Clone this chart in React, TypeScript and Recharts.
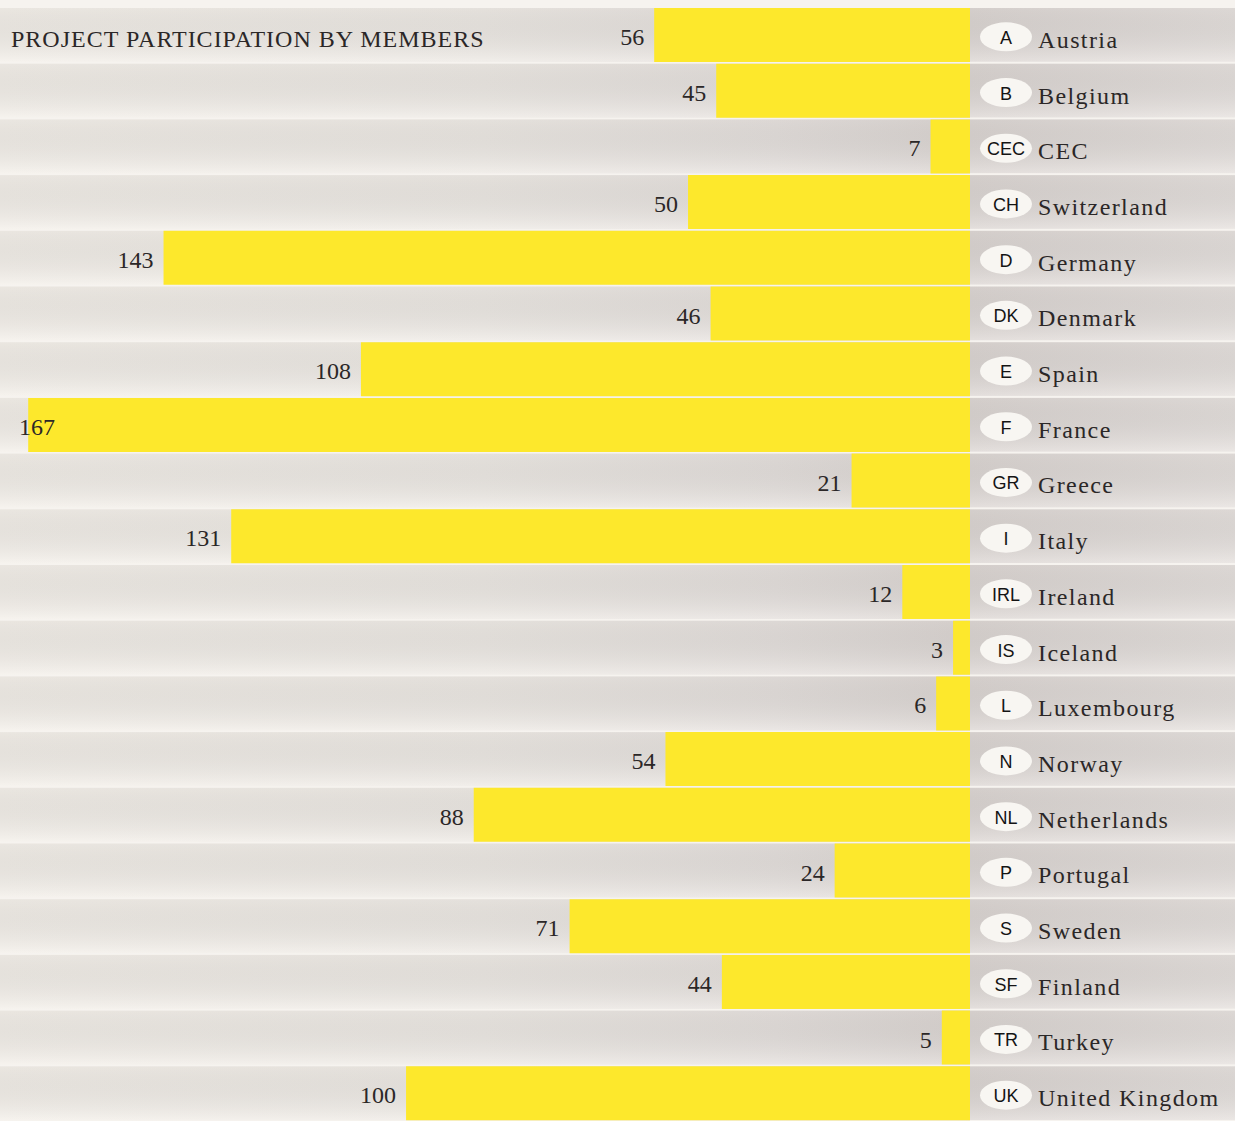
import React from 'react';
import { BarChart, Bar, XAxis, YAxis, LabelList } from 'recharts';

// Country codes, names and number of projects per member
const codes = ['A', 'B', 'CEC', 'CH', 'D', 'DK', 'E', 'F', 'GR', 'I', 'IRL', 'IS', 'L', 'N', 'NL', 'P', 'S', 'SF', 'TR', 'UK'];
const countries = [
  'Austria', 'Belgium', 'CEC', 'Switzerland', 'Germany', 'Denmark', 'Spain', 'France', 'Greece', 'Italy',
  'Ireland', 'Iceland', 'Luxembourg', 'Norway', 'Netherlands', 'Portugal', 'Sweden', 'Finland', 'Turkey', 'United Kingdom',
];
const projects = [56, 45, 7, 50, 143, 46, 108, 167, 21, 131, 12, 3, 6, 54, 88, 24, 71, 44, 5, 100];

const WIDTH = 1235;
const HEIGHT = 1121;
const TOP = 7;
const LABEL_W = 265;
const ROW_H = (HEIGHT - TOP) / codes.length;

const YELLOW = '#fde82c';
const SERIF = '"Liberation Serif", "Times New Roman", serif';
const SANS = '"Liberation Sans", Arial, sans-serif';

const chartData = codes.map((code, i) => ({ code, country: countries[i], projects: projects[i] }));

const Gradients = () => (
  <defs>
    <linearGradient id="bandH" x1="0" y1="0" x2="1" y2="0">
      <stop offset="0%" stopColor="#f4f0ea" />
      <stop offset="50%" stopColor="#eeeae5" />
      <stop offset="80%" stopColor="#e6e1de" />
      <stop offset="100%" stopColor="#ddd7d4" />
    </linearGradient>
    <linearGradient id="bandR" x1="0" y1="0" x2="1" y2="0">
      <stop offset="0%" stopColor="#ddd7d4" />
      <stop offset="100%" stopColor="#e6e1de" />
    </linearGradient>
    <linearGradient id="bandV" x1="0" y1="0" x2="0" y2="1">
      <stop offset="0%" stopColor="#000000" stopOpacity={0.04} />
      <stop offset="100%" stopColor="#ffffff" stopOpacity={0.2} />
    </linearGradient>
  </defs>
);

// grey row band behind the bars
const RowBand = (props: any) => {
  const { x, y, width, height } = props;
  return (
    <g>
      <Gradients />
      <rect x={x} y={y} width={width} height={height} fill="url(#bandH)" />
      <rect x={x} y={y} width={width} height={height} fill="url(#bandV)" />
    </g>
  );
};

// right column: band, oval badge with code, country name
const CountryTick = (props: any) => {
  const { x, y, payload } = props;
  const i = payload.index;
  return (
    <g>
      <rect x={x} y={y - ROW_H / 2 + 1} width={LABEL_W} height={ROW_H - 2} fill="url(#bandR)" />
      <rect x={x} y={y - ROW_H / 2 + 1} width={LABEL_W} height={ROW_H - 2} fill="url(#bandV)" />
      <ellipse cx={x + 36} cy={y + 2} rx={26} ry={14.5} fill="#f8f6f2" />
      <text x={x + 36} y={y + 9} textAnchor="middle" fontFamily={SANS} fontSize={18} fill="#141414">
        {payload.value}
      </text>
      <text x={x + 68} y={y + 13} fontFamily={SERIF} fontSize={24} letterSpacing={1.4} fill="#2b2727">
        {countries[i]}
      </text>
    </g>
  );
};

const ValueLabel = (props: any) => {
  const { x, y, width, height, value } = props;
  const left = Math.min(x, x + width);
  const tx = Math.max(left - 10, 55);
  return (
    <text x={tx} y={y + height / 2 + 10} textAnchor="end" fontFamily={SERIF} fontSize={24} fill="#2b2727">
      {value}
    </text>
  );
};

export default function App() {
  return (
    <div style={{ position: 'absolute', left: 0, top: 0, width: WIDTH, height: HEIGHT, background: '#f6f3ef' }}>
      <BarChart
        width={WIDTH}
        height={HEIGHT}
        data={chartData}
        layout="vertical"
        margin={{ top: TOP, right: 0, bottom: 0, left: 0 }}
        barCategoryGap={1}
      >
        <XAxis type="number" hide reversed domain={[0, 172]} allowDataOverflow />
        <YAxis
          type="category"
          dataKey="code"
          orientation="right"
          width={LABEL_W}
          axisLine={false}
          tickLine={false}
          tickSize={0}
          tickMargin={0}
          interval={0}
          tick={<CountryTick />}
        />
        <Bar dataKey="projects" fill={YELLOW} isAnimationActive={false} background={<RowBand />}>
          <LabelList dataKey="projects" content={<ValueLabel />} />
        </Bar>
      </BarChart>
      <div
        style={{
          position: 'absolute',
          left: 11,
          top: 26,
          fontFamily: SERIF,
          fontSize: 24,
          letterSpacing: 1.0,
          color: '#2b2727',
          whiteSpace: 'nowrap',
        }}
      >
        PROJECT PARTICIPATION BY MEMBERS
      </div>
    </div>
  );
}
